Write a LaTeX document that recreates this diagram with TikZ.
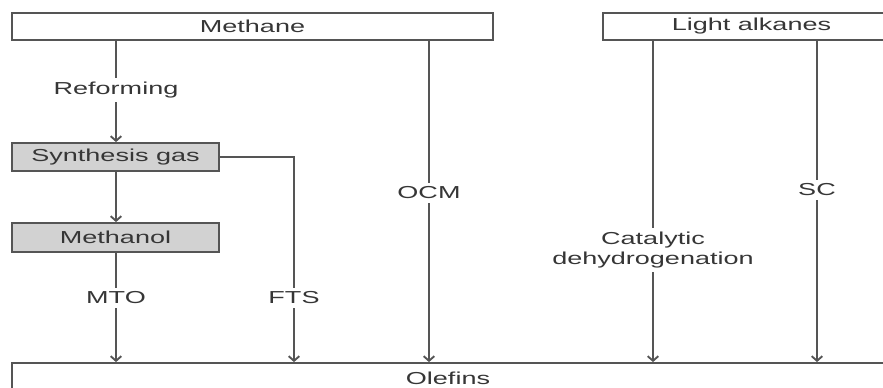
\documentclass[tikz,border=0pt]{standalone}
\usepackage{fontspec}
\setmainfont{Liberation Sans}
\usepackage{graphicx}
\usetikzlibrary{arrows.meta}
\definecolor{lncol}{HTML}{555555}
\definecolor{txcol}{HTML}{363636}
\definecolor{boxfill}{HTML}{D2D2D2}
\newcommand{\wtxt}[1]{\scalebox{1.56}[1]{#1}}
\begin{document}
\begin{tikzpicture}[x=0.75pt,y=0.75pt,yscale=-1,xscale=1,
  box/.style={draw=lncol,line width=1.4pt,inner sep=0pt,text=txcol,font=\fontsize{13}{15}\selectfont},
  grey/.style={box,fill=boxfill},
  lbl/.style={inner sep=3pt,text=txcol,font=\fontsize{13}{15}\selectfont,align=center},
  ln/.style={draw=lncol,line width=1.4pt},
  arr/.style={ln,-{Straight Barb[length=3.5pt,width=8pt]}}]
\useasboundingbox (0,0) rectangle (883,388);
\clip (0,0) rectangle (883,388);

% Boxes
\node[box,minimum width=360.75pt,minimum height=20.25pt] (methane) at (252.5,26.5) {\wtxt{Methane}};
\node[box,minimum width=222.75pt,minimum height=20.25pt] (alkanes) at (751.5,26.5) {\wtxt{Light alkanes}};
\node[grey,minimum width=155.25pt,minimum height=21pt] (syngas) at (115.5,157) {\wtxt{Synthesis gas}};
\node[grey,minimum width=155.25pt,minimum height=21.75pt] (methanol) at (115.5,237.5) {\wtxt{Methanol}};
\node[box,minimum width=654pt,minimum height=22.5pt] (olefins) at (448,378) {\wtxt{Olefins}};

% Text Node
\node[lbl] (reform) at (116,90) {\wtxt{Reforming}};
% Text Node
\node[lbl] (mto) at (116,298) {\wtxt{MTO}};
% Text Node
\node[lbl] (fts) at (294,298) {\wtxt{FTS}};
% Text Node
\node[lbl] (ocm) at (429,193) {\wtxt{OCM}};
% Text Node
\node[lbl] (dehyd) at (653,250) {\wtxt{Catalytic}\\\wtxt{dehydrogenation}};
% Text Node
\node[lbl] (sc) at (817,190) {\wtxt{SC}};

%Straight Lines
\draw[ln] (methane.south -| reform) -- (reform);
\draw[arr] (reform) -- (reform |- syngas.north);
\draw[arr] (syngas.south -| reform) -- (methanol.north -| reform);
\draw[ln] (methanol.south -| mto) -- (mto);
\draw[arr] (mto) -- (mto |- olefins.north);
\draw[ln] (syngas.east) -| (fts);
\draw[arr] (fts) -- (fts |- olefins.north);
\draw[ln] (methane.south -| ocm) -- (ocm);
\draw[arr] (ocm) -- (ocm |- olefins.north);
\draw[ln] (alkanes.south -| dehyd) -- (dehyd);
\draw[arr] (dehyd) -- (dehyd |- olefins.north);
\draw[ln] (alkanes.south -| sc) -- (sc);
\draw[arr] (sc) -- (sc |- olefins.north);

\end{tikzpicture}
\end{document}
